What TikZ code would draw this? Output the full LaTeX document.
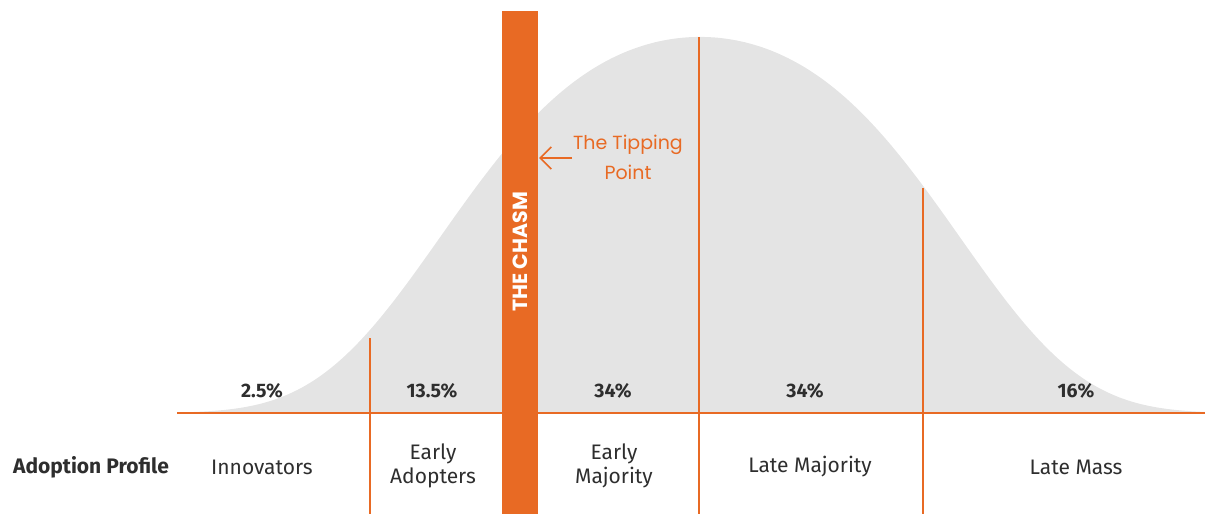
\documentclass[tikz,border=0pt]{standalone}
\usepackage{fontspec}
\setmainfont{Fira Sans}
\newfontfamily\popfont{Poppins}
\usetikzlibrary{arrows.meta}
\definecolor{chasmorange}{HTML}{E86A24}
\definecolor{curvegray}{HTML}{E4E4E4}
\definecolor{textdark}{HTML}{2E2E2E}
\begin{document}
\begin{tikzpicture}[x=1pt,y=-1pt,
  divider/.style={draw=chasmorange,line width=2.8pt},
  pct/.style={font=\fontsize{19.5}{22}\selectfont\bfseries,text=textdark,inner sep=0pt},
  profile/.style={font=\fontsize{21}{24}\selectfont,text=textdark,align=center,inner sep=0pt},
]
\useasboundingbox (0,0) rectangle (1205,514);
% bell curve
\fill[curvegray] plot[domain=177:1205,samples=240,variable=\t]
  (\t,{413-376*exp(-(0.07*((\t-700)/100)^2+0.0063*((\t-700)/100)^4))}) -- cycle;
% base line and dividers
\coordinate (baseL) at (177,413);
\coordinate (baseR) at (1205,413);
\coordinate (d1top) at (370,338);
\coordinate (d1bot) at (370,514);
\coordinate (d2top) at (699,37);
\coordinate (d2bot) at (699,514);
\coordinate (d3top) at (923,188);
\coordinate (d3bot) at (923,514);
\draw[divider] (baseL) -- (baseR);
\draw[divider] (d1top) -- (d1bot);
\draw[divider] (d2top) -- (d2bot);
\draw[divider] (d3top) -- (d3bot);
% chasm bar
\node[fill=chasmorange,minimum width=36pt,minimum height=503pt,inner sep=0pt] (chasm) at (520,262.5) {};
\node[rotate=90,text=white,inner sep=0pt,font=\popfont\fontsize{20.5}{22}\selectfont\bfseries] (chasmlabel) at (520,252) {THE CHASM};
% tipping point
\node[text=chasmorange,align=center,inner sep=0pt,font=\popfont\fontsize{19}{30}\selectfont] (tipping) at (628,157) {The Tipping\\Point};
\coordinate (arrowstart) at (572,158);
\draw[chasmorange,line width=1.6pt,-{Straight Barb[length=11pt,width=22pt]},shorten >=1pt] (arrowstart) -- (chasm.east |- arrowstart);
% percentages
\node[pct] (p1) at (262,391) {2.5\%};
\node[pct] (p2) at (432,391) {13.5\%};
\node[pct] (p3) at (613,391) {34\%};
\node[pct] (p4) at (805,391) {34\%};
\node[pct] (p5) at (1076,391) {16\%};
% profile row
\node[profile,font=\fontsize{21}{24}\selectfont\bfseries] (adoption) at (91,467) {Adoption Profile};
\node[profile] (innov) at (262,467) {Innovators};
\node[profile] (early) at (433,466) {Early\\Adopters};
\node[profile] (emaj) at (614,466) {Early\\Majority};
\node[profile] (lmaj) at (810,467) {Late Majority};
\node[profile] (lmass) at (1076,467) {Late Mass};
\end{tikzpicture}
\end{document}
